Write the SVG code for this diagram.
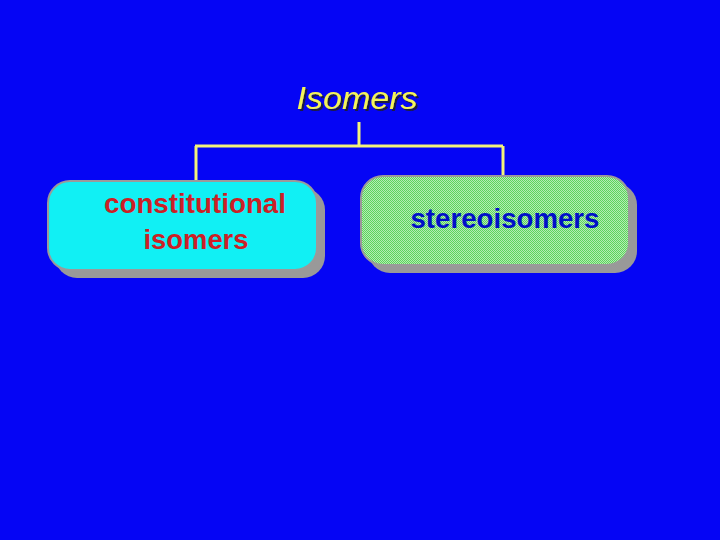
<svg xmlns="http://www.w3.org/2000/svg" width="720" height="540" viewBox="0 0 720 540">
<defs>
<pattern id="dither" width="2" height="2" patternUnits="userSpaceOnUse">
<rect width="2" height="2" fill="#b4ecb4"/>
<rect width="1" height="1" fill="#5cd45c"/>
<rect x="1" y="1" width="1" height="1" fill="#5cd45c"/>
</pattern>
<filter id="ts" x="-10%" y="-20%" width="130%" height="150%">
<feDropShadow dx="2" dy="2" stdDeviation="0.3" flood-color="#1a1a40" flood-opacity="1"/>
</filter>
<style>
.shadow{fill:#999999;}
.box{stroke:#9a9a9a;stroke-width:2;}
.conn{stroke:#f4f47a;stroke-width:3;fill:none;}
.lbl{font-family:"Liberation Sans",Arial,sans-serif;font-weight:bold;font-size:27px;text-anchor:middle;}
</style>
</defs>
<rect width="720" height="540" fill="#0505f5"/>
<g id="connectors">
<path class="conn" d="M359,122 V146 M195,146 H503 M196,146 V181 M503,146 V176"/>
</g>
<g id="isomers">
<text x="357" y="109" font-family="Liberation Sans,Arial,sans-serif" font-style="italic" font-size="31" text-anchor="middle" fill="#f4f45a" filter="url(#ts)" textLength="121" lengthAdjust="spacingAndGlyphs">Isomers</text>
</g>
<g id="constitutional">
<rect class="shadow" x="55" y="188" width="270" height="90" rx="22"/>
<rect class="box" x="48" y="181" width="269" height="89" rx="22" fill="#11f0f4"/>
<text class="lbl" x="195" y="213" fill="#cc1f26" textLength="182" lengthAdjust="spacingAndGlyphs">constitutional</text>
<text class="lbl" x="196" y="249" fill="#cc1f26" textLength="105" lengthAdjust="spacingAndGlyphs">isomers</text>
</g>
<g id="stereoisomers">
<rect class="shadow" x="368" y="183" width="269" height="90" rx="22"/>
<rect class="box" x="361" y="176" width="268" height="89" rx="22" fill="url(#dither)"/>
<text class="lbl" x="505" y="228" fill="#0010c8" textLength="189" lengthAdjust="spacingAndGlyphs">stereoisomers</text>
</g>
</svg>
